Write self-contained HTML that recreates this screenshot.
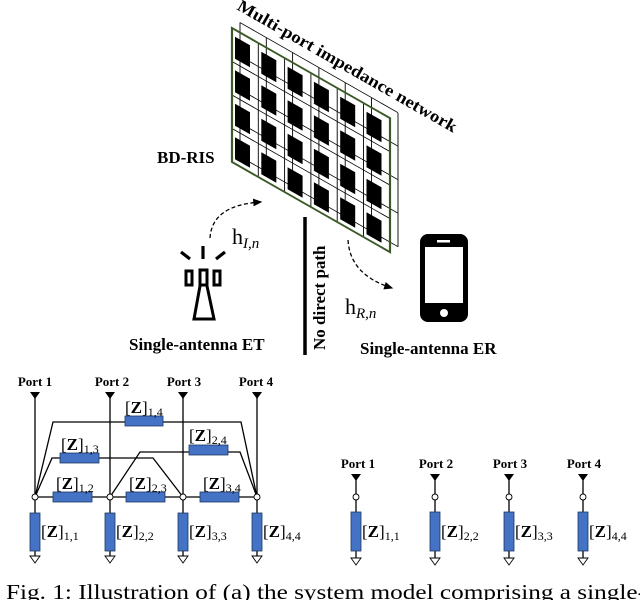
<!DOCTYPE html>
<html><head><meta charset="utf-8"><style>
html,body{margin:0;padding:0;background:#fff;}
svg{display:block;}
text{font-family:"Liberation Serif",serif;}
.b{font-weight:bold;}
</style></head><body>
<svg width="640" height="600" viewBox="0 0 640 600" xmlns="http://www.w3.org/2000/svg">
<defs>
<marker id="ah" markerWidth="8" markerHeight="8" refX="6" refY="4" orient="auto"><path d="M0,1 L7,4 L0,7 z" fill="#000"/></marker>
</defs>
<!-- RIS -->
<g transform="translate(232,28) skewY(29.7)">
  <g stroke="#000" stroke-width="0.9" fill="none">
    <g transform="translate(8,-10)">
      <path d="M0,0 H158 M0,33.5 H158 M0,67 H158 M0,100.5 H158 M0,134 H158"/>
      <path d="M0,0 V134 M26.3,0 V134 M52.6,0 V134 M78.9,0 V134 M105.2,0 V134 M131.5,0 V134 M158,0 V134"/>
    </g>
    <path d="M26.3,0 V134 M52.6,0 V134 M78.9,0 V134 M105.2,0 V134 M131.5,0 V134"/>
    <path d="M0,33.5 H158 M0,67 H158 M0,100.5 H158"/>
  </g>
  <g fill="#000">
    <rect x="3" y="7" width="15" height="22"/><rect x="29.3" y="7" width="15" height="22"/><rect x="55.6" y="7" width="15" height="22"/><rect x="81.9" y="7" width="15" height="22"/><rect x="108.2" y="7" width="15" height="22"/><rect x="134.5" y="7" width="15" height="22"/>
    <rect x="3" y="40.5" width="15" height="22"/><rect x="29.3" y="40.5" width="15" height="22"/><rect x="55.6" y="40.5" width="15" height="22"/><rect x="81.9" y="40.5" width="15" height="22"/><rect x="108.2" y="40.5" width="15" height="22"/><rect x="134.5" y="40.5" width="15" height="22"/>
    <rect x="3" y="74" width="15" height="22"/><rect x="29.3" y="74" width="15" height="22"/><rect x="55.6" y="74" width="15" height="22"/><rect x="81.9" y="74" width="15" height="22"/><rect x="108.2" y="74" width="15" height="22"/><rect x="134.5" y="74" width="15" height="22"/>
    <rect x="3" y="107.5" width="15" height="22"/><rect x="29.3" y="107.5" width="15" height="22"/><rect x="55.6" y="107.5" width="15" height="22"/><rect x="81.9" y="107.5" width="15" height="22"/><rect x="108.2" y="107.5" width="15" height="22"/><rect x="134.5" y="107.5" width="15" height="22"/>
  </g>
  <rect x="0" y="0" width="158" height="134" fill="none" stroke="#3c5a28" stroke-width="2.2"/>
</g>
<text class="b" font-size="17" transform="translate(236,9) rotate(29.7)" textLength="250" lengthAdjust="spacingAndGlyphs">Multi-port impedance network</text>
<text class="b" x="157" y="163" font-size="17">BD-RIS</text>

<!-- ET antenna -->
<g stroke="#000" stroke-width="3.2" fill="none">
  <line x1="203" y1="246" x2="203" y2="259"/>
  <line x1="181" y1="252" x2="190" y2="259"/>
  <line x1="225" y1="252" x2="216" y2="259"/>
  <rect x="186" y="271" width="6" height="14" stroke-width="3"/>
  <rect x="200" y="270" width="7" height="15" stroke-width="3"/>
  <rect x="214" y="271" width="6" height="14" stroke-width="3"/>
  <path d="M200,286 L194,319 H214 L207,286" stroke-width="3"/>
</g>
<path d="M210,238 Q212,205 261,202" fill="none" stroke="#000" stroke-width="1.3" stroke-dasharray="4,2.5" marker-end="url(#ah)"/>
<text x="232" y="244" font-size="22">h<tspan font-size="15" font-style="italic" dy="4">I,n</tspan></text>

<line x1="305" y1="217" x2="305" y2="355" stroke="#000" stroke-width="3.5"/>
<text class="b" font-size="17" transform="translate(325,350) rotate(-90)">No direct path</text>

<path d="M348,240 Q350,275 392,288" fill="none" stroke="#000" stroke-width="1.3" stroke-dasharray="4,2.5" marker-end="url(#ah)"/>
<text x="345" y="314" font-size="22">h<tspan font-size="15" font-style="italic" dy="4">R,n</tspan></text>

<!-- phone -->
<rect x="420" y="234" width="48" height="88" rx="8" fill="#000"/>
<rect x="425" y="247" width="38" height="56" fill="#fff"/>
<rect x="437" y="240" width="13" height="2.5" fill="#fff"/>
<circle cx="444" cy="313" r="4" fill="#fff"/>

<text class="b" x="129" y="350" font-size="17">Single-antenna ET</text>
<text class="b" x="360" y="354" font-size="17">Single-antenna ER</text>

<!-- left circuit -->
<g font-size="13" class="b" text-anchor="middle">
  <text x="35" y="386">Port 1</text><text x="112" y="386">Port 2</text><text x="184" y="386">Port 3</text><text x="256" y="386">Port 4</text>
</g>
<g stroke="#000" stroke-width="1.3" fill="none">
  <line x1="35" y1="396" x2="35" y2="556"/><line x1="110" y1="396" x2="110" y2="556"/><line x1="183" y1="396" x2="183" y2="556"/><line x1="257" y1="396" x2="257" y2="556"/>
  <line x1="35" y1="497" x2="257" y2="497"/>
  <path d="M35,497 L53,422 H241 L257,497"/>
  <path d="M35,497 L52,458 H153 L183,497"/>
  <path d="M110,497 L140,452 H240 L257,497"/>
</g>
<g fill="#000">
  <path d="M30,392 H40 L35,399 z"/><path d="M105,392 H115 L110,399 z"/><path d="M178,392 H188 L183,399 z"/><path d="M252,392 H262 L257,399 z"/>
</g>
<g fill="#4472c4" stroke="#1f3864" stroke-width="0.8">
  <rect x="125" y="416" width="38" height="10"/>
  <rect x="60" y="453" width="39" height="10"/>
  <rect x="189" y="445" width="39" height="10"/>
  <rect x="53" y="492" width="39" height="10"/>
  <rect x="126" y="492" width="39" height="10"/>
  <rect x="200" y="492" width="39" height="10"/>
  <rect x="30" y="513" width="10" height="38"/><rect x="105" y="513" width="10" height="38"/><rect x="178" y="513" width="10" height="38"/><rect x="252" y="513" width="10" height="38"/>
</g>
<g fill="#fff" stroke="#000" stroke-width="0.9">
  <circle cx="35" cy="497" r="3"/><circle cx="110" cy="497" r="3"/><circle cx="183" cy="497" r="3"/><circle cx="257" cy="497" r="3"/>
  <path d="M30,556 H40 L35,563 z"/><path d="M105,556 H115 L110,563 z"/><path d="M178,556 H188 L183,563 z"/><path d="M252,556 H262 L257,563 z"/>
</g>
<g font-size="17">
  <text x="125" y="413">[<tspan class="b">Z</tspan>]<tspan font-size="12" dy="3">1,4</tspan></text>
  <text x="61" y="450">[<tspan class="b">Z</tspan>]<tspan font-size="12" dy="3">1,3</tspan></text>
  <text x="189" y="441">[<tspan class="b">Z</tspan>]<tspan font-size="12" dy="3">2,4</tspan></text>
  <text x="56" y="489">[<tspan class="b">Z</tspan>]<tspan font-size="12" dy="3">1,2</tspan></text>
  <text x="129" y="489">[<tspan class="b">Z</tspan>]<tspan font-size="12" dy="3">2,3</tspan></text>
  <text x="203" y="489">[<tspan class="b">Z</tspan>]<tspan font-size="12" dy="3">3,4</tspan></text>
  <text x="41" y="537">[<tspan class="b">Z</tspan>]<tspan font-size="12" dy="3">1,1</tspan></text>
  <text x="116" y="537">[<tspan class="b">Z</tspan>]<tspan font-size="12" dy="3">2,2</tspan></text>
  <text x="189" y="537">[<tspan class="b">Z</tspan>]<tspan font-size="12" dy="3">3,3</tspan></text>
  <text x="263" y="537">[<tspan class="b">Z</tspan>]<tspan font-size="12" dy="3">4,4</tspan></text>
</g>

<!-- right circuit -->
<g font-size="13" class="b" text-anchor="middle">
  <text x="358" y="468">Port 1</text><text x="436" y="468">Port 2</text><text x="510" y="468">Port 3</text><text x="584" y="468">Port 4</text>
</g>
<g stroke="#000" stroke-width="1.3">
  <line x1="356" y1="476" x2="356" y2="558"/><line x1="435" y1="476" x2="435" y2="558"/><line x1="509" y1="476" x2="509" y2="558"/><line x1="583" y1="476" x2="583" y2="558"/>
</g>
<g fill="#000">
  <path d="M351,474 H361 L356,481 z"/><path d="M430,474 H440 L435,481 z"/><path d="M504,474 H514 L509,481 z"/><path d="M578,474 H588 L583,481 z"/>
</g>
<g fill="#4472c4" stroke="#1f3864" stroke-width="0.8">
  <rect x="351" y="512" width="10" height="39"/><rect x="430" y="512" width="10" height="39"/><rect x="504" y="512" width="10" height="39"/><rect x="578" y="512" width="10" height="39"/>
</g>
<g fill="#fff" stroke="#000" stroke-width="0.9">
  <circle cx="356" cy="497" r="3"/><circle cx="435" cy="497" r="3"/><circle cx="509" cy="497" r="3"/><circle cx="583" cy="497" r="3"/>
  <path d="M351,558 H361 L356,565 z"/><path d="M430,558 H440 L435,565 z"/><path d="M504,558 H514 L509,565 z"/><path d="M578,558 H588 L583,565 z"/>
</g>
<g font-size="17">
  <text x="362" y="537">[<tspan class="b">Z</tspan>]<tspan font-size="12" dy="3">1,1</tspan></text>
  <text x="441" y="537">[<tspan class="b">Z</tspan>]<tspan font-size="12" dy="3">2,2</tspan></text>
  <text x="515" y="537">[<tspan class="b">Z</tspan>]<tspan font-size="12" dy="3">3,3</tspan></text>
  <text x="589" y="537">[<tspan class="b">Z</tspan>]<tspan font-size="12" dy="3">4,4</tspan></text>
</g>

<text x="6" y="599" font-size="21" textLength="640" lengthAdjust="spacingAndGlyphs">Fig. 1: Illustration of (a) the system model comprising a single-</text>
</svg>
</body></html>
